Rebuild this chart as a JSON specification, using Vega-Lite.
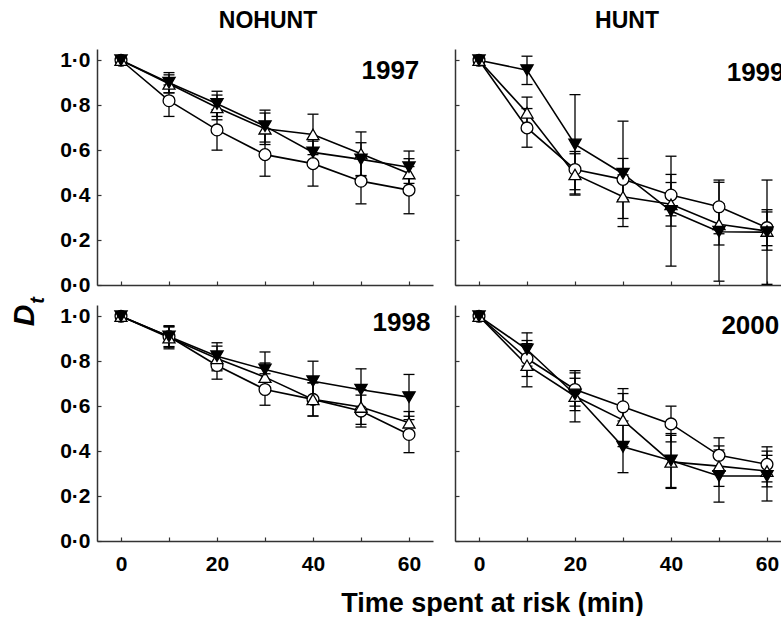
{
  "$schema": "https://vega.github.io/schema/vega-lite/v6.json",
  "padding": {"left": 9, "top": 10, "right": 0, "bottom": 0},
  "background": "white",
  "config": {
    "view": {"stroke": null},
    "font": "Liberation Sans",
    "axis": {"grid": false, "domainColor": "#333", "tickColor": "#333", "domainWidth": 1.5, "tickWidth": 1.2, "tickSize": -4, "labelFont": "Liberation Sans", "labelFontSize": 21, "labelFontWeight": "bold", "labelColor": "black", "titleColor": "black", "titleFont": "Liberation Sans"}
  },
  "datasets": {
    "d": [
      {"year": 1997, "sym": "c", "t": 0, "D": 1, "lo": null, "hi": null},
      {"year": 1997, "sym": "c", "t": 10, "D": 0.82, "lo": 0.75, "hi": 0.89},
      {"year": 1997, "sym": "c", "t": 20, "D": 0.69, "lo": 0.6, "hi": 0.78},
      {"year": 1997, "sym": "c", "t": 30, "D": 0.58, "lo": 0.484, "hi": 0.676},
      {"year": 1997, "sym": "c", "t": 40, "D": 0.54, "lo": 0.44, "hi": 0.64},
      {"year": 1997, "sym": "c", "t": 50, "D": 0.462, "lo": 0.361, "hi": 0.563},
      {"year": 1997, "sym": "c", "t": 60, "D": 0.422, "lo": 0.317, "hi": 0.527},
      {"year": 1997, "sym": "u", "t": 0, "D": 1, "lo": null, "hi": null},
      {"year": 1997, "sym": "u", "t": 10, "D": 0.895, "lo": 0.855, "hi": 0.935},
      {"year": 1997, "sym": "u", "t": 20, "D": 0.79, "lo": 0.735, "hi": 0.845},
      {"year": 1997, "sym": "u", "t": 30, "D": 0.695, "lo": 0.625, "hi": 0.765},
      {"year": 1997, "sym": "u", "t": 40, "D": 0.67, "lo": 0.58, "hi": 0.76},
      {"year": 1997, "sym": "u", "t": 50, "D": 0.584, "lo": 0.487, "hi": 0.681},
      {"year": 1997, "sym": "u", "t": 60, "D": 0.496, "lo": 0.43, "hi": 0.562},
      {"year": 1997, "sym": "d", "t": 0, "D": 1, "lo": null, "hi": null},
      {"year": 1997, "sym": "d", "t": 10, "D": 0.9, "lo": 0.855, "hi": 0.945},
      {"year": 1997, "sym": "d", "t": 20, "D": 0.806, "lo": 0.75, "hi": 0.862},
      {"year": 1997, "sym": "d", "t": 30, "D": 0.707, "lo": 0.636, "hi": 0.778},
      {"year": 1997, "sym": "d", "t": 40, "D": 0.59, "lo": 0.53, "hi": 0.65},
      {"year": 1997, "sym": "d", "t": 50, "D": 0.559, "lo": 0.485, "hi": 0.633},
      {"year": 1997, "sym": "d", "t": 60, "D": 0.524, "lo": 0.452, "hi": 0.596},

      {"year": 1998, "sym": "c", "t": 0, "D": 1, "lo": null, "hi": null},
      {"year": 1998, "sym": "c", "t": 10, "D": 0.91, "lo": 0.865, "hi": 0.955},
      {"year": 1998, "sym": "c", "t": 20, "D": 0.781, "lo": 0.72, "hi": 0.842},
      {"year": 1998, "sym": "c", "t": 30, "D": 0.674, "lo": 0.604, "hi": 0.744},
      {"year": 1998, "sym": "c", "t": 40, "D": 0.63, "lo": 0.556, "hi": 0.704},
      {"year": 1998, "sym": "c", "t": 50, "D": 0.578, "lo": 0.507, "hi": 0.649},
      {"year": 1998, "sym": "c", "t": 60, "D": 0.474, "lo": 0.393, "hi": 0.555},
      {"year": 1998, "sym": "u", "t": 0, "D": 1, "lo": null, "hi": null},
      {"year": 1998, "sym": "u", "t": 10, "D": 0.905, "lo": 0.855, "hi": 0.952},
      {"year": 1998, "sym": "u", "t": 20, "D": 0.812, "lo": 0.757, "hi": 0.867},
      {"year": 1998, "sym": "u", "t": 30, "D": 0.729, "lo": 0.665, "hi": 0.792},
      {"year": 1998, "sym": "u", "t": 40, "D": 0.63, "lo": 0.556, "hi": 0.704},
      {"year": 1998, "sym": "u", "t": 50, "D": 0.596, "lo": 0.519, "hi": 0.673},
      {"year": 1998, "sym": "u", "t": 60, "D": 0.526, "lo": 0.476, "hi": 0.576},
      {"year": 1998, "sym": "d", "t": 0, "D": 1, "lo": null, "hi": null},
      {"year": 1998, "sym": "d", "t": 10, "D": 0.91, "lo": 0.862, "hi": 0.958},
      {"year": 1998, "sym": "d", "t": 20, "D": 0.822, "lo": 0.762, "hi": 0.882},
      {"year": 1998, "sym": "d", "t": 30, "D": 0.763, "lo": 0.685, "hi": 0.841},
      {"year": 1998, "sym": "d", "t": 40, "D": 0.711, "lo": 0.622, "hi": 0.8},
      {"year": 1998, "sym": "d", "t": 50, "D": 0.673, "lo": 0.58, "hi": 0.766},
      {"year": 1998, "sym": "d", "t": 60, "D": 0.64, "lo": 0.54, "hi": 0.741},

      {"year": 1999, "sym": "c", "t": 0, "D": 1, "lo": null, "hi": null},
      {"year": 1999, "sym": "c", "t": 10, "D": 0.699, "lo": 0.613, "hi": 0.785},
      {"year": 1999, "sym": "c", "t": 20, "D": 0.514, "lo": 0.424, "hi": 0.594},
      {"year": 1999, "sym": "c", "t": 30, "D": 0.47, "lo": 0.38, "hi": 0.563},
      {"year": 1999, "sym": "c", "t": 40, "D": 0.4, "lo": 0.308, "hi": 0.492},
      {"year": 1999, "sym": "c", "t": 50, "D": 0.348, "lo": 0.228, "hi": 0.467},
      {"year": 1999, "sym": "c", "t": 60, "D": 0.255, "lo": 0.175, "hi": 0.335},
      {"year": 1999, "sym": "u", "t": 0, "D": 1, "lo": null, "hi": null},
      {"year": 1999, "sym": "u", "t": 10, "D": 0.766, "lo": 0.696, "hi": 0.836},
      {"year": 1999, "sym": "u", "t": 20, "D": 0.492, "lo": 0.4, "hi": 0.584},
      {"year": 1999, "sym": "u", "t": 30, "D": 0.393, "lo": 0.296, "hi": 0.49},
      {"year": 1999, "sym": "u", "t": 40, "D": 0.359, "lo": 0.262, "hi": 0.456},
      {"year": 1999, "sym": "u", "t": 50, "D": 0.27, "lo": 0.178, "hi": 0.362},
      {"year": 1999, "sym": "u", "t": 60, "D": 0.24, "lo": 0.155, "hi": 0.325},
      {"year": 1999, "sym": "d", "t": 0, "D": 1, "lo": null, "hi": null},
      {"year": 1999, "sym": "d", "t": 10, "D": 0.956, "lo": 0.892, "hi": 1.018},
      {"year": 1999, "sym": "d", "t": 20, "D": 0.625, "lo": 0.405, "hi": 0.847},
      {"year": 1999, "sym": "d", "t": 30, "D": 0.495, "lo": 0.26, "hi": 0.729},
      {"year": 1999, "sym": "d", "t": 40, "D": 0.329, "lo": 0.084, "hi": 0.573},
      {"year": 1999, "sym": "d", "t": 50, "D": 0.237, "lo": 0.017, "hi": 0.457},
      {"year": 1999, "sym": "d", "t": 60, "D": 0.235, "lo": 0.003, "hi": 0.467},

      {"year": 2000, "sym": "c", "t": 0, "D": 1, "lo": null, "hi": null},
      {"year": 2000, "sym": "c", "t": 10, "D": 0.812, "lo": 0.732, "hi": 0.892},
      {"year": 2000, "sym": "c", "t": 20, "D": 0.674, "lo": 0.6, "hi": 0.748},
      {"year": 2000, "sym": "c", "t": 30, "D": 0.597, "lo": 0.516, "hi": 0.678},
      {"year": 2000, "sym": "c", "t": 40, "D": 0.521, "lo": 0.441, "hi": 0.6},
      {"year": 2000, "sym": "c", "t": 50, "D": 0.381, "lo": 0.303, "hi": 0.459},
      {"year": 2000, "sym": "c", "t": 60, "D": 0.341, "lo": 0.263, "hi": 0.419},
      {"year": 2000, "sym": "u", "t": 0, "D": 1, "lo": null, "hi": null},
      {"year": 2000, "sym": "u", "t": 10, "D": 0.782, "lo": 0.686, "hi": 0.878},
      {"year": 2000, "sym": "u", "t": 20, "D": 0.644, "lo": 0.53, "hi": 0.758},
      {"year": 2000, "sym": "u", "t": 30, "D": 0.538, "lo": 0.42, "hi": 0.656},
      {"year": 2000, "sym": "u", "t": 40, "D": 0.352, "lo": 0.234, "hi": 0.47},
      {"year": 2000, "sym": "u", "t": 50, "D": 0.333, "lo": 0.243, "hi": 0.423},
      {"year": 2000, "sym": "u", "t": 60, "D": 0.311, "lo": 0.241, "hi": 0.381},
      {"year": 2000, "sym": "d", "t": 0, "D": 1, "lo": null, "hi": null},
      {"year": 2000, "sym": "d", "t": 10, "D": 0.852, "lo": 0.778, "hi": 0.926},
      {"year": 2000, "sym": "d", "t": 20, "D": 0.652, "lo": 0.58, "hi": 0.724},
      {"year": 2000, "sym": "d", "t": 30, "D": 0.419, "lo": 0.304, "hi": 0.534},
      {"year": 2000, "sym": "d", "t": 40, "D": 0.358, "lo": 0.238, "hi": 0.478},
      {"year": 2000, "sym": "d", "t": 50, "D": 0.289, "lo": 0.173, "hi": 0.405},
      {"year": 2000, "sym": "d", "t": 60, "D": 0.289, "lo": 0.178, "hi": 0.4}
    ]
  },
  "data": {"name": "d"},
  "bounds": "flush",
  "columns": 2,
  "spacing": {"row": 20, "column": 22},
  "concat": [
    {
      "width": 336, "height": 236,
      "title": {"text": "NOHUNT", "frame": "group", "anchor": "middle", "fontSize": 23, "fontWeight": "bold", "baseline": "alphabetic", "offset": -2, "dx": 3, "color": "black", "font": "Liberation Sans"},
      "transform": [{"filter": "datum.year == 1997"}],
      "encoding": {
        "x": {"field": "t", "type": "quantitative", "scale": {"domain": [-5, 65], "nice": false, "zero": false}, "axis": {"values": [0, 10, 20, 30, 40, 50, 60], "labels": false, "title": null}},
        "y": {"field": "D", "type": "quantitative", "scale": {"domain": [0, 1.05], "nice": false}, "axis": {"values": [0, 0.2, 0.4, 0.6, 0.8, 1], "labelExpr": "replace(format(datum.value, '.1f'), '.', '·')", "labelPadding": 11, "title": "D", "titleFontSize": 30, "titleFontStyle": "italic", "titleFontWeight": "bold", "titleAngle": 270, "titleX": -73, "titleY": 266, "titleAlign": "center", "titleBaseline": "middle"}}
      },
      "layer": [
        {"mark": {"type": "rule", "color": "black", "strokeWidth": 1.3}, "encoding": {"y": {"field": "lo", "type": "quantitative"}, "y2": {"field": "hi"}, "detail": {"field": "sym"}}},
        {"mark": {"type": "tick", "orient": "horizontal", "size": 11, "thickness": 1.3, "color": "black", "opacity": 1}, "encoding": {"y": {"field": "lo", "type": "quantitative"}}},
        {"mark": {"type": "tick", "orient": "horizontal", "size": 11, "thickness": 1.3, "color": "black", "opacity": 1}, "encoding": {"y": {"field": "hi", "type": "quantitative"}}},
        {"mark": {"type": "line", "color": "black", "strokeWidth": 1.6}, "encoding": {"detail": {"field": "sym"}}},
        {"mark": {"type": "point", "filled": true, "stroke": "black", "strokeWidth": 1.3, "opacity": 1},
         "encoding": {
           "shape": {"field": "sym", "scale": {"domain": ["c", "u", "d"], "range": ["circle", "triangle-up", "triangle-down"]}, "legend": null},
           "fill": {"field": "sym", "scale": {"domain": ["c", "u", "d"], "range": ["white", "white", "black"]}, "legend": null},
           "size": {"field": "sym", "scale": {"domain": ["c", "u", "d"], "range": [140, 150, 150]}, "legend": null}
         }},
        {"transform": [{"filter": "datum.t == 0 && datum.sym == 'c'"}],
         "mark": {"type": "text", "fontSize": 26, "fontWeight": "bold", "align": "left", "baseline": "alphabetic", "color": "black"},
         "encoding": {"x": {"datum": 50.1, "type": "quantitative"}, "y": {"datum": 0.918, "type": "quantitative"}, "text": {"field": "year", "type": "nominal"}}}
      ]
    },
    {
      "width": 336, "height": 236,
      "title": {"text": "HUNT", "frame": "group", "anchor": "middle", "fontSize": 23, "fontWeight": "bold", "baseline": "alphabetic", "offset": -2, "dx": 4, "color": "black", "font": "Liberation Sans"},
      "transform": [{"filter": "datum.year == 1999"}],
      "encoding": {
        "x": {"field": "t", "type": "quantitative", "scale": {"domain": [-5, 65], "nice": false, "zero": false}, "axis": {"values": [0, 10, 20, 30, 40, 50, 60], "labels": false, "title": null}},
        "y": {"field": "D", "type": "quantitative", "scale": {"domain": [0, 1.05], "nice": false}, "axis": {"values": [0, 0.2, 0.4, 0.6, 0.8, 1], "labels": false, "title": null}}
      },
      "layer": [
        {"mark": {"type": "rule", "color": "black", "strokeWidth": 1.3}, "encoding": {"y": {"field": "lo", "type": "quantitative"}, "y2": {"field": "hi"}, "detail": {"field": "sym"}}},
        {"mark": {"type": "tick", "orient": "horizontal", "size": 11, "thickness": 1.3, "color": "black", "opacity": 1}, "encoding": {"y": {"field": "lo", "type": "quantitative"}}},
        {"mark": {"type": "tick", "orient": "horizontal", "size": 11, "thickness": 1.3, "color": "black", "opacity": 1}, "encoding": {"y": {"field": "hi", "type": "quantitative"}}},
        {"mark": {"type": "line", "color": "black", "strokeWidth": 1.6}, "encoding": {"detail": {"field": "sym"}}},
        {"mark": {"type": "point", "filled": true, "stroke": "black", "strokeWidth": 1.3, "opacity": 1},
         "encoding": {
           "shape": {"field": "sym", "scale": {"domain": ["c", "u", "d"], "range": ["circle", "triangle-up", "triangle-down"]}, "legend": null},
           "fill": {"field": "sym", "scale": {"domain": ["c", "u", "d"], "range": ["white", "white", "black"]}, "legend": null},
           "size": {"field": "sym", "scale": {"domain": ["c", "u", "d"], "range": [140, 150, 150]}, "legend": null}
         }},
        {"transform": [{"filter": "datum.t == 0 && datum.sym == 'c'"}],
         "mark": {"type": "text", "fontSize": 26, "fontWeight": "bold", "align": "left", "baseline": "alphabetic", "color": "black"},
         "encoding": {"x": {"datum": 51.6, "type": "quantitative"}, "y": {"datum": 0.907, "type": "quantitative"}, "text": {"field": "year", "type": "nominal"}}}
      ]
    },
    {
      "width": 336, "height": 236,
      "transform": [{"filter": "datum.year == 1998"}],
      "encoding": {
        "x": {"field": "t", "type": "quantitative", "scale": {"domain": [-5, 65], "nice": false, "zero": false}, "axis": {"values": [0, 10, 20, 30, 40, 50, 60], "labelExpr": "datum.value % 20 == 0 ? datum.label : ''", "labelPadding": 16, "title": "Time spent at risk (min)", "titleFontSize": 27, "titleFontWeight": "bold", "titleX": 395, "titleY": 70, "titleAlign": "center", "titleBaseline": "alphabetic"}},
        "y": {"field": "D", "type": "quantitative", "scale": {"domain": [0, 1.05], "nice": false}, "axis": {"values": [0, 0.2, 0.4, 0.6, 0.8, 1], "labelExpr": "replace(format(datum.value, '.1f'), '.', '·')", "labelPadding": 11, "title": "t", "titleFontSize": 20, "titleFontStyle": "italic", "titleFontWeight": "bold", "titleAngle": 270, "titleX": -60, "titleY": -5, "titleAlign": "center", "titleBaseline": "middle"}}
      },
      "layer": [
        {"mark": {"type": "rule", "color": "black", "strokeWidth": 1.3}, "encoding": {"y": {"field": "lo", "type": "quantitative"}, "y2": {"field": "hi"}, "detail": {"field": "sym"}}},
        {"mark": {"type": "tick", "orient": "horizontal", "size": 11, "thickness": 1.3, "color": "black", "opacity": 1}, "encoding": {"y": {"field": "lo", "type": "quantitative"}}},
        {"mark": {"type": "tick", "orient": "horizontal", "size": 11, "thickness": 1.3, "color": "black", "opacity": 1}, "encoding": {"y": {"field": "hi", "type": "quantitative"}}},
        {"mark": {"type": "line", "color": "black", "strokeWidth": 1.6}, "encoding": {"detail": {"field": "sym"}}},
        {"mark": {"type": "point", "filled": true, "stroke": "black", "strokeWidth": 1.3, "opacity": 1},
         "encoding": {
           "shape": {"field": "sym", "scale": {"domain": ["c", "u", "d"], "range": ["circle", "triangle-up", "triangle-down"]}, "legend": null},
           "fill": {"field": "sym", "scale": {"domain": ["c", "u", "d"], "range": ["white", "white", "black"]}, "legend": null},
           "size": {"field": "sym", "scale": {"domain": ["c", "u", "d"], "range": [140, 150, 150]}, "legend": null}
         }},
        {"transform": [{"filter": "datum.t == 0 && datum.sym == 'c'"}],
         "mark": {"type": "text", "fontSize": 26, "fontWeight": "bold", "align": "left", "baseline": "alphabetic", "color": "black"},
         "encoding": {"x": {"datum": 52.4, "type": "quantitative"}, "y": {"datum": 0.934, "type": "quantitative"}, "text": {"field": "year", "type": "nominal"}}}
      ]
    },
    {
      "width": 336, "height": 236,
      "transform": [{"filter": "datum.year == 2000"}],
      "encoding": {
        "x": {"field": "t", "type": "quantitative", "scale": {"domain": [-5, 65], "nice": false, "zero": false}, "axis": {"values": [0, 10, 20, 30, 40, 50, 60], "labelExpr": "datum.value % 20 == 0 ? datum.label : ''", "labelPadding": 16, "title": null}},
        "y": {"field": "D", "type": "quantitative", "scale": {"domain": [0, 1.05], "nice": false}, "axis": {"values": [0, 0.2, 0.4, 0.6, 0.8, 1], "labels": false, "title": null}}
      },
      "layer": [
        {"mark": {"type": "rule", "color": "black", "strokeWidth": 1.3}, "encoding": {"y": {"field": "lo", "type": "quantitative"}, "y2": {"field": "hi"}, "detail": {"field": "sym"}}},
        {"mark": {"type": "tick", "orient": "horizontal", "size": 11, "thickness": 1.3, "color": "black", "opacity": 1}, "encoding": {"y": {"field": "lo", "type": "quantitative"}}},
        {"mark": {"type": "tick", "orient": "horizontal", "size": 11, "thickness": 1.3, "color": "black", "opacity": 1}, "encoding": {"y": {"field": "hi", "type": "quantitative"}}},
        {"mark": {"type": "line", "color": "black", "strokeWidth": 1.6}, "encoding": {"detail": {"field": "sym"}}},
        {"mark": {"type": "point", "filled": true, "stroke": "black", "strokeWidth": 1.3, "opacity": 1},
         "encoding": {
           "shape": {"field": "sym", "scale": {"domain": ["c", "u", "d"], "range": ["circle", "triangle-up", "triangle-down"]}, "legend": null},
           "fill": {"field": "sym", "scale": {"domain": ["c", "u", "d"], "range": ["white", "white", "black"]}, "legend": null},
           "size": {"field": "sym", "scale": {"domain": ["c", "u", "d"], "range": [140, 150, 150]}, "legend": null}
         }},
        {"transform": [{"filter": "datum.t == 0 && datum.sym == 'c'"}],
         "mark": {"type": "text", "fontSize": 26, "fontWeight": "bold", "align": "left", "baseline": "alphabetic", "color": "black"},
         "encoding": {"x": {"datum": 50.5, "type": "quantitative"}, "y": {"datum": 0.92, "type": "quantitative"}, "text": {"field": "year", "type": "nominal"}}}
      ]
    }
  ]
}
